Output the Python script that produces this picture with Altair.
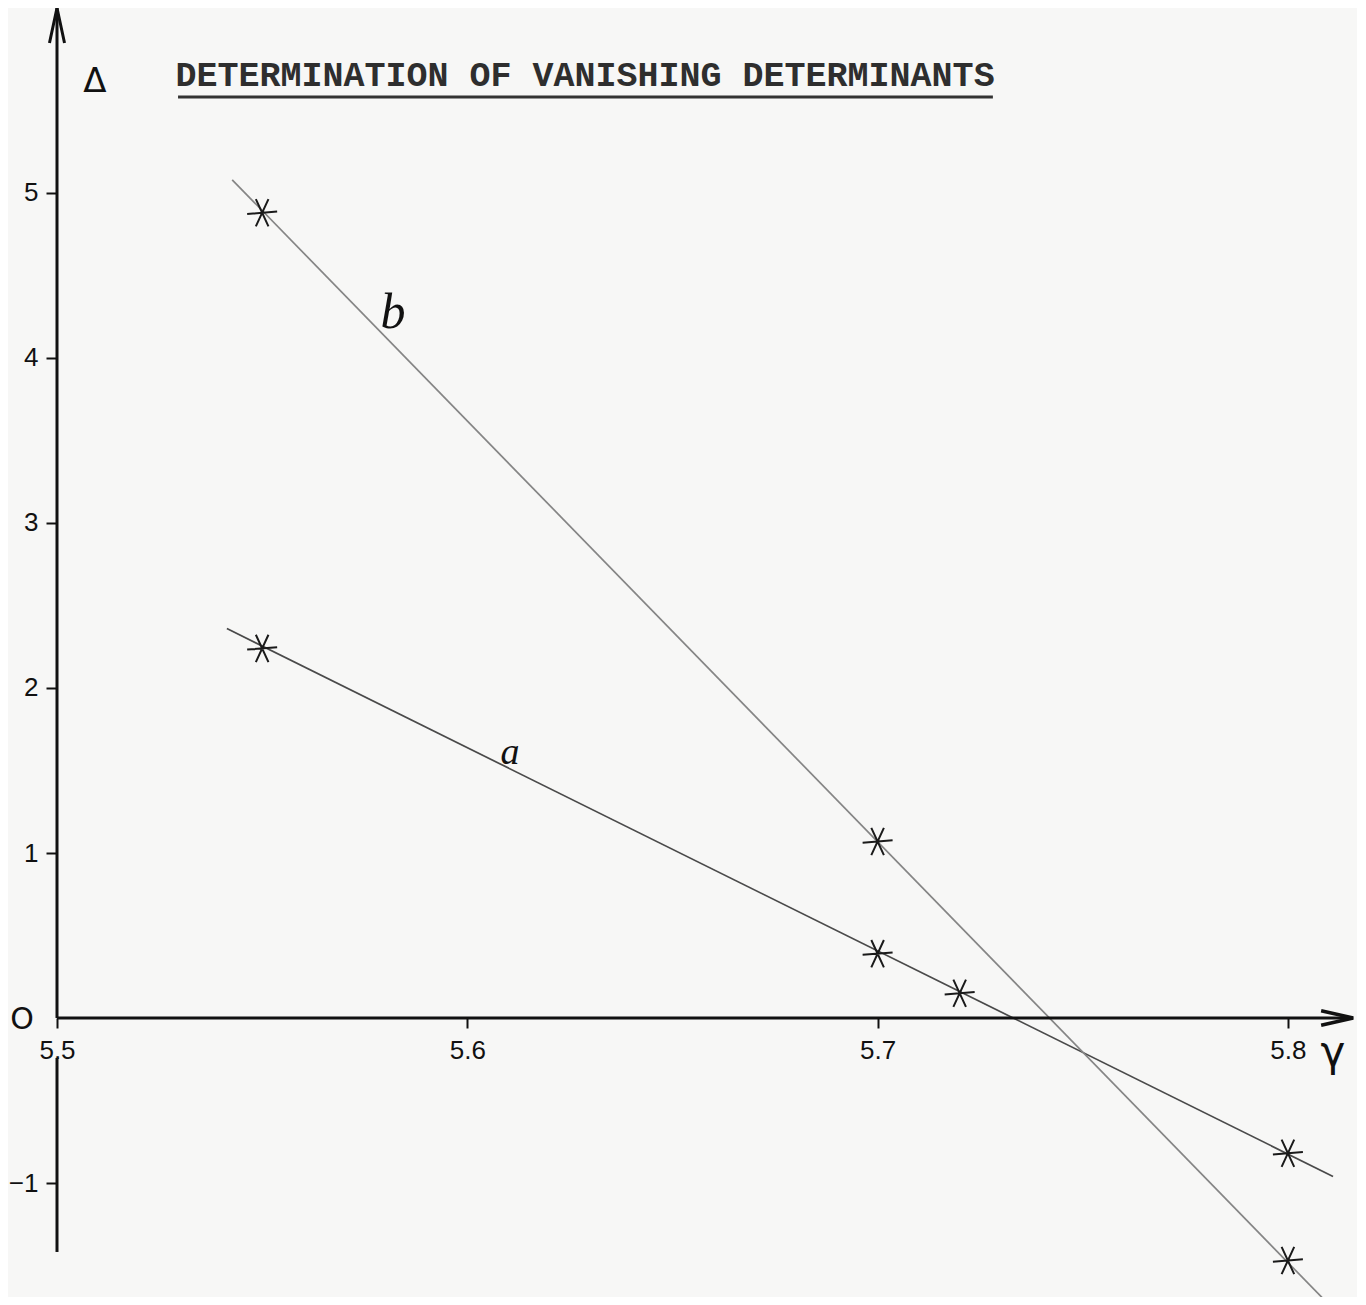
import altair as alt
import pandas as pd

# ---- data ----
gamma_a = [5.55, 5.70, 5.72, 5.80]
delta_a = [2.24, 0.39, 0.15, -0.82]
gamma_b = [5.55, 5.70, 5.80]
delta_b = [4.88, 1.07, -1.47]

# fitted straight lines (end points)
line_a_x = [5.5414, 5.811]
line_a_y = [2.36, -0.96]
line_b_x = [5.5427, 5.816]
line_b_y = [5.08, -1.89]

x_tick_values = [5.5, 5.6, 5.7, 5.8]
y_tick_values = [-1, 1, 2, 3, 4, 5]

title_text = "DETERMINATION OF VANISHING DETERMINANTS"

# ---- layout ----
W, H = 1300, 1289
X_MIN, X_MAX = 5.5, 5.81684
Y_MIN, Y_MAX = -1.6909, 6.1212
X_AXIS_OFFSET = -H * (0 - Y_MIN) / (Y_MAX - Y_MIN)

INK = "#111111"
xs = alt.Scale(domain=[X_MIN, X_MAX], zero=False, nice=False)
ys = alt.Scale(domain=[Y_MIN, Y_MAX], zero=False, nice=False)
x_axis = alt.Axis(values=x_tick_values, format=".1f", domain=False, grid=False,
                  tickSize=10, tickWidth=2, tickColor=INK, labelFont="Liberation Sans",
                  labelFontSize=26, labelColor=INK, labelPadding=9, labelFlush=False,
                  labelOverlap=False, offset=X_AXIS_OFFSET, title=None)
y_axis = alt.Axis(values=y_tick_values, domain=False, grid=False, tickSize=11,
                  tickWidth=2, tickColor=INK, labelFont="Liberation Sans",
                  labelFontSize=26, labelColor=INK, labelPadding=8, labelFlush=False,
                  title=None)
X = alt.X("x:Q", scale=xs, axis=x_axis)
Y = alt.Y("y:Q", scale=ys, axis=y_axis)

# ---- tables ----
pts = pd.DataFrame({
    "x": gamma_a + gamma_b,
    "y": delta_a + delta_b,
    "s": ["a"] * len(gamma_a) + ["b"] * len(gamma_b),
})
lines = pd.DataFrame({
    "x": line_a_x + line_b_x,
    "y": line_a_y + line_b_y,
    "s": ["a", "a", "b", "b"],
})
axes_rules = pd.DataFrame({
    "x": [5.5, 5.5, 5.5],
    "x2": [5.5, 5.5, 5.8159],
    "y": [0.0, -0.242, 0.0],
    "y2": [Y_MAX, -1.418, 0.0],
})
underline = pd.DataFrame({"x": [5.5295], "x2": [5.7281], "y": [5.582], "y2": [5.582]})
title_df = pd.DataFrame({"x": [5.6287], "y": [5.715], "t": [title_text]})
sym_df = pd.DataFrame({"x": [5.50926, 5.49147, 5.811], "y": [5.673, -0.012, -0.212],
                       "t": ["Δ", "O", "γ"], "f": [34, 30, 42]})
curve_lbl = pd.DataFrame({"x": [5.58189, 5.61041], "y": [4.273, 1.606], "t": ["b", "a"],
                          "f": [50, 38]})
y_arrow = pd.DataFrame({"x": [5.5], "y": [Y_MAX]})
x_arrow = pd.DataFrame({"x": [5.8159], "y": [0.0]})

fit = alt.Chart(lines).mark_line(strokeWidth=1.7, clip=True).encode(
    x=X, y=Y, detail="s:N",
    color=alt.Color("s:N", scale=alt.Scale(domain=["a", "b"], range=["#4a4a4a", "#858585"]),
                    legend=None),
)
rules = alt.Chart(axes_rules).mark_rule(strokeWidth=3, color=INK).encode(
    x=X, x2="x2:Q", y=Y, y2="y2:Q")
uline = alt.Chart(underline).mark_rule(strokeWidth=3, color="#333333").encode(
    x=X, x2="x2:Q", y=Y, y2="y2:Q")
cross_path = "M-1,0.08L1,-0.08M-0.42,0.91L0.42,-0.91M0.42,0.91L-0.42,-0.91"
crosses = alt.Chart(pts).mark_point(shape=cross_path, size=900, filled=False,
                                    strokeWidth=2, color="#1a1a1a", opacity=1).encode(x=X, y=Y)
ya = alt.Chart(y_arrow).mark_point(shape="M-0.43,2L0,0L0.43,2", size=1225, filled=False,
                                   strokeWidth=3, color=INK, opacity=1).encode(x=X, y=Y)
xa = alt.Chart(x_arrow).mark_point(shape="M-2,-0.45L0,0L-2,0.45", size=1024, filled=False,
                                   strokeWidth=3.5, color=INK, opacity=1).encode(x=X, y=Y)
title = alt.Chart(title_df).mark_text(font="Liberation Mono", fontSize=35, fontWeight="bold",
                                      color="#2e2e2e", align="center", baseline="middle").encode(
    x=X, y=Y, text="t:N")
syms = alt.Chart(sym_df).mark_text(font="DejaVu Sans", color=INK, align="center",
                                   baseline="middle").encode(
    x=X, y=Y, text="t:N", size=alt.Size("f:Q", scale=None, legend=None))
clbl = alt.Chart(curve_lbl).mark_text(font="Liberation Serif", fontStyle="italic", color=INK,
                                      align="center", baseline="middle").encode(
    x=X, y=Y, text="t:N", size=alt.Size("f:Q", scale=None, legend=None))

chart = alt.layer(fit, rules, uline, crosses, ya, xa, title, syms, clbl).properties(
    width=W, height=H,
    autosize=alt.AutoSizeParams(type="none"),
    padding={"left": 49, "top": 0, "right": 0, "bottom": 0},
    background="#f7f7f6",
).configure_view(stroke=None)

chart.save("out.html", embed_options={"renderer": "svg", "actions": False})
